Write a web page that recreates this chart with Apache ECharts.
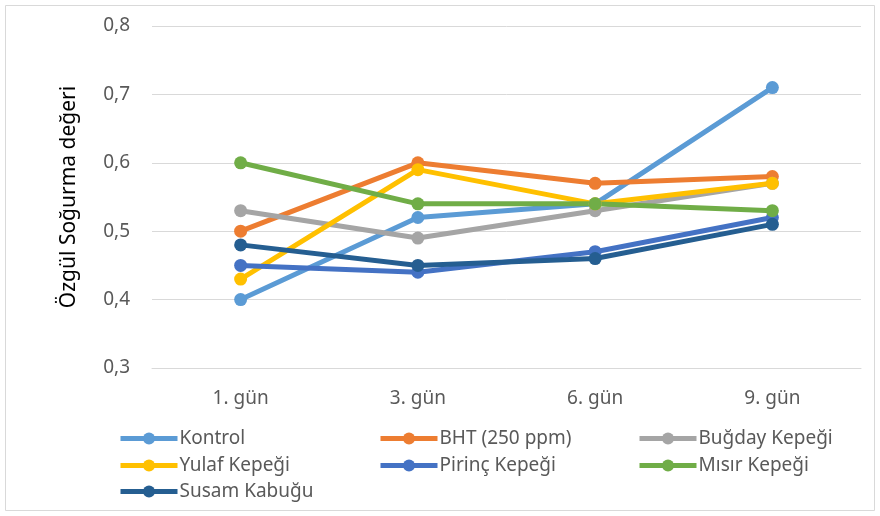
<!DOCTYPE html>
<html>
<head>
<meta charset="utf-8">
<script src="https://cdn.jsdelivr.net/npm/echarts@6/dist/echarts.min.js"></script>
<style>
  html, body { margin: 0; padding: 0; background: #fff; }
  #chart { width: 880px; height: 516px; }
</style>
</head>
<body>
<div id="chart"></div>
<script>
// Categories (days) and absorption values per treatment
const days = ['1. gün', '3. gün', '6. gün', '9. gün'];
const kontrol = [0.40, 0.52, 0.54, 0.71];
const bht = [0.50, 0.60, 0.57, 0.58];
const bugday = [0.53, 0.49, 0.53, 0.57];
const yulaf = [0.43, 0.59, 0.54, 0.57];
const pirinc = [0.45, 0.44, 0.47, 0.52];
const misir = [0.60, 0.54, 0.54, 0.53];
const susam = [0.48, 0.45, 0.46, 0.51];

const yMin = 0.3, yMax = 0.8, yStep = 0.1;

const seriesDefs = [
  { name: 'Kontrol', data: kontrol, color: '#5B9BD5' },
  { name: 'BHT (250 ppm)', data: bht, color: '#ED7D31' },
  { name: 'Buğday Kepeği', data: bugday, color: '#A5A5A5' },
  { name: 'Yulaf Kepeği', data: yulaf, color: '#FFC000' },
  { name: 'Pirinç Kepeği', data: pirinc, color: '#4472C4' },
  { name: 'Mısır Kepeği', data: misir, color: '#70AD47' },
  { name: 'Susam Kabuğu', data: susam, color: '#255E91' }
];

const font = 'Noto Sans, Liberation Sans, sans-serif';
const textColor = '#595959';

// Legend laid out as a 3-column grid: one legend component per entry
const legendCols = [118, 378, 637];
const legendRows = [429, 456, 482];
const legends = seriesDefs.map((s, i) => ({
  data: [s.name],
  left: legendCols[i % 3],
  top: legendRows[Math.floor(i / 3)],
  itemWidth: 57,
  itemHeight: 15,
  padding: 0,
  lineStyle: { width: 5 },
  textStyle: { fontFamily: font, fontSize: 19, color: textColor, padding: [0, 0, 0, -3] }
}));

const chart = echarts.init(document.getElementById('chart'), null, { renderer: 'canvas' });
chart.setOption({
  animation: false,
  backgroundColor: '#fff',
  graphic: [{
    type: 'rect',
    shape: { x: 5.5, y: 5.5, width: 869, height: 505 },
    style: { fill: 'none', stroke: '#D9D9D9', lineWidth: 1 },
    silent: true
  }],
  grid: { left: 152, right: 19, top: 26, bottom: 148 },
  xAxis: {
    type: 'category',
    data: days,
    boundaryGap: true,
    axisLine: { lineStyle: { color: '#D9D9D9', width: 1 } },
    axisTick: { show: false },
    axisLabel: { fontFamily: font, fontSize: 19, color: textColor, margin: 21 }
  },
  yAxis: {
    type: 'value',
    min: yMin, max: yMax, interval: yStep,
    name: 'Özgül Soğurma değeri',
    nameLocation: 'middle',
    nameGap: 72,
    nameTextStyle: { fontFamily: font, fontSize: 21, color: '#000' },
    axisLine: { show: false },
    axisTick: { show: false },
    splitLine: { lineStyle: { color: '#D9D9D9', width: 1 } },
    axisLabel: {
      fontFamily: font, fontSize: 19, color: textColor, margin: 22,
      formatter: v => v.toFixed(1).replace('.', ',')
    }
  },
  legend: legends,
  series: seriesDefs.map(s => ({
    name: s.name,
    type: 'line',
    data: s.data,
    symbol: 'circle',
    symbolSize: 13,
    lineStyle: { width: 5, color: s.color },
    itemStyle: { color: s.color },
    emphasis: { disabled: true }
  }))
});
</script>
</body>
</html>
